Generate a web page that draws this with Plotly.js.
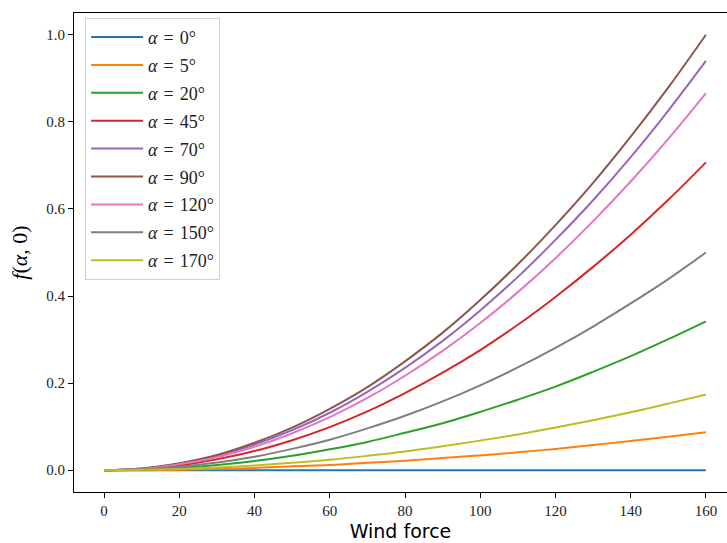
<!DOCTYPE html>
<html>
<head>
<meta charset="utf-8">
<script src="https://cdn.plot.ly/plotly-3.0.1.min.js"></script>
<style>html,body{margin:0;padding:0;background:#fff;}#chart{width:727px;height:543px;}</style>
</head>
<body>
<div id="chart"></div>
<script>
const windForce = [0,10,20,30,40,50,60,70,80,90,100,110,120,130,140,150,160];
const angles = [0,5,20,45,70,90,120,150,170];
const f0   = [0,0,0,0,0,0,0,0,0,0,0,0,0,0,0,0,0];
const f5   = [0,0.000,0.001,0.003,0.005,0.009,0.012,0.017,0.022,0.028,0.034,0.041,0.049,0.058,0.067,0.077,0.087];
const f20  = [0,0.001,0.005,0.012,0.021,0.033,0.048,0.065,0.086,0.108,0.134,0.162,0.192,0.226,0.262,0.301,0.342];
const f45  = [0,0.003,0.011,0.025,0.044,0.069,0.099,0.135,0.177,0.224,0.276,0.334,0.398,0.467,0.541,0.621,0.707];
const f70  = [0,0.004,0.015,0.033,0.059,0.092,0.132,0.180,0.235,0.297,0.367,0.444,0.529,0.620,0.719,0.826,0.940];
const f90  = [0,0.004,0.016,0.035,0.063,0.098,0.141,0.191,0.250,0.316,0.391,0.473,0.563,0.660,0.766,0.879,1.000];
const f120 = [0,0.003,0.014,0.030,0.054,0.085,0.122,0.166,0.217,0.274,0.338,0.409,0.487,0.572,0.663,0.761,0.866];
const f150 = [0,0.002,0.008,0.018,0.031,0.049,0.070,0.096,0.125,0.158,0.195,0.236,0.281,0.330,0.383,0.439,0.500];
const f170 = [0,0.001,0.003,0.006,0.011,0.017,0.024,0.033,0.043,0.055,0.068,0.082,0.098,0.115,0.133,0.153,0.174];
const seriesValues = [f0,f5,f20,f45,f70,f90,f120,f150,f170];
const colors = ['#1f77b4','#ff7f0e','#2ca02c','#d62728','#9467bd','#8c564b','#e377c2','#7f7f7f','#bcbd22'];

const traces = angles.map((a,i)=>({
  x: windForce, y: seriesValues[i], type:'scatter', mode:'lines',
  name: '<i>α</i>&#8196;=&#8196;' + a + '°', legendgroup:'g'+i,
  line:{color:colors[i], width:2, shape:'spline'}
}));

const serif = "'Liberation Serif', 'DejaVu Serif', serif";
const layout = {
  width:727, height:543,
  margin:{l:74, r:0, t:13, b:51},
  paper_bgcolor:'#fff', plot_bgcolor:'#fff',
  showlegend:true,
  legend:{x:0.017, y:0.99, xanchor:'left', yanchor:'top',
    bgcolor:'rgba(255,255,255,0.8)', bordercolor:'#d0d0d0', borderwidth:1,
    font:{family:serif, size:18, color:'#222'}, tracegroupgap:1.5, traceorder:'grouped',
    itemwidth:52},
  xaxis:{range:[-8,165.6], tickvals:[0,20,40,60,80,100,120,140,160], ticktext:['0','20','40','60','80','100','120','140','160'],
    showgrid:false, zeroline:false, showline:true, linecolor:'#000', linewidth:1, mirror:true,
    ticks:'outside', ticklen:5, tickcolor:'#000', tickwidth:1,
    tickfont:{family:serif, size:15, color:'#222'},
    title:{text:'Wind force', font:{family:'DejaVu Sans, sans-serif', size:19, color:'#000'}, standoff:6}},
  yaxis:{range:[-0.05,1.05], tickvals:[0,0.2,0.4,0.6,0.8,1.0], ticktext:['0.0','0.2','0.4','0.6','0.8','1.0'],
    showgrid:false, zeroline:false, showline:true, linecolor:'#000', linewidth:1, mirror:false,
    ticks:'outside', ticklen:5, tickcolor:'#000', tickwidth:1,
    tickfont:{family:serif, size:15, color:'#222'},
    title:{text:'<i>f</i>(<i>α</i>, 0)', font:{family:serif, size:22, color:'#000'}, standoff:12}}
};
Plotly.newPlot('chart', traces, layout, {displayModeBar:false, staticPlot:true});
</script>
</body>
</html>
